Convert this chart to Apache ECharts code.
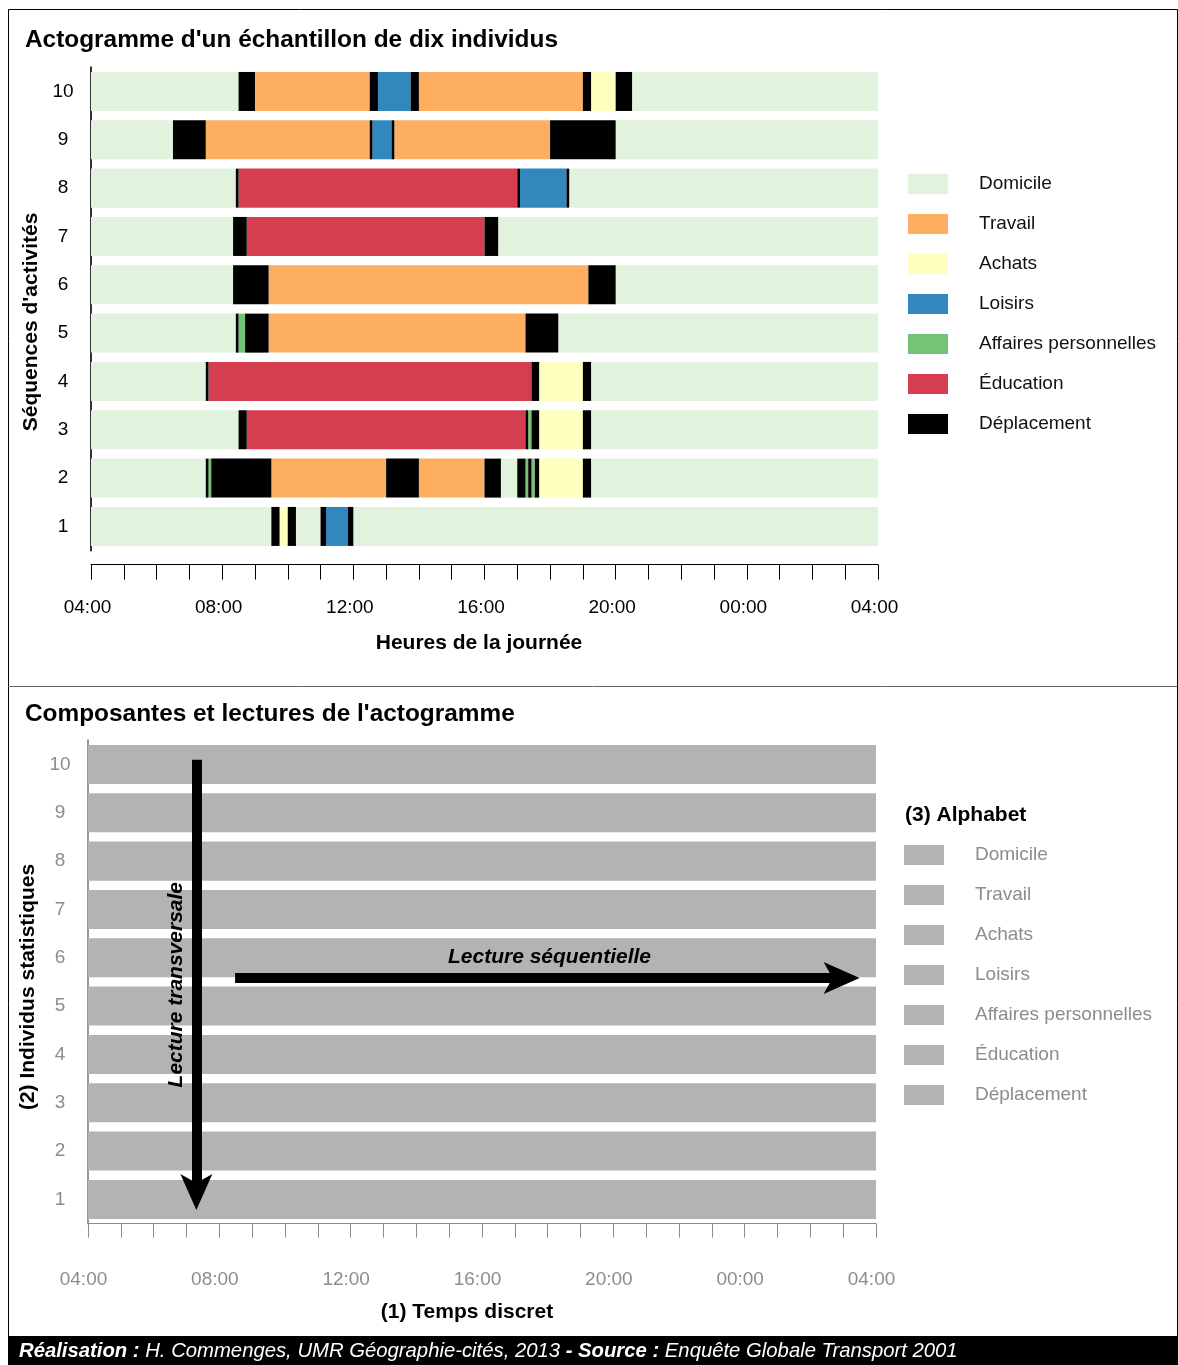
<!DOCTYPE html>
<html><head><meta charset="utf-8">
<script src="https://cdn.jsdelivr.net/npm/echarts@6/dist/echarts.min.js"></script>
<style>html,body{margin:0;padding:0;background:#fff}#c{width:1178px;height:1365px}</style>
</head><body><div id="c"></div><script>
// ---------- DATA ----------
const categories = ['1','2','3','4','5','6','7','8','9','10'];
const activities = ['Domicile','Travail','Achats','Loisirs','Affaires personnelles','Éducation','Déplacement'];
const activityCodes = ['D','T','A','L','P','E','X'];
const activityColors = ['#e1f3dc','#fdae61','#ffffbf','#3288bd','#74c476','#d53e4f','#000000'];
const tickLabels = ['04:00','08:00','12:00','16:00','20:00','00:00','04:00'];

const individu1 = [['D','04:00','09:30'],['X','09:30','09:45'],['A','09:45','10:00'],['X','10:00','10:15'],['D','10:15','11:00'],['X','11:00','11:10'],['L','11:10','11:50'],['X','11:50','12:00'],['D','12:00','04:00']];
const individu2 = [['D','04:00','07:30'],['X','07:30','07:35'],['P','07:35','07:40'],['X','07:40','09:30'],['T','09:30','13:00'],['X','13:00','14:00'],['T','14:00','16:00'],['X','16:00','16:30'],['D','16:30','17:00'],['X','17:00','17:15'],['P','17:15','17:20'],['X','17:20','17:26'],['P','17:26','17:32'],['X','17:32','17:40'],['A','17:40','19:00'],['X','19:00','19:15'],['D','19:15','04:00']];
const individu3 = [['D','04:00','08:30'],['X','08:30','08:45'],['E','08:45','17:15'],['X','17:15','17:20'],['P','17:20','17:26'],['X','17:26','17:40'],['A','17:40','19:00'],['X','19:00','19:15'],['D','19:15','04:00']];
const individu4 = [['D','04:00','07:30'],['X','07:30','07:35'],['E','07:35','17:26'],['X','17:26','17:40'],['A','17:40','19:00'],['X','19:00','19:15'],['D','19:15','04:00']];
const individu5 = [['D','04:00','08:25'],['X','08:25','08:30'],['P','08:30','08:42'],['X','08:42','09:25'],['T','09:25','17:15'],['X','17:15','18:15'],['D','18:15','04:00']];
const individu6 = [['D','04:00','08:20'],['X','08:20','09:25'],['T','09:25','19:10'],['X','19:10','20:00'],['D','20:00','04:00']];
const individu7 = [['D','04:00','08:20'],['X','08:20','08:45'],['E','08:45','16:00'],['X','16:00','16:25'],['D','16:25','04:00']];
const individu8 = [['D','04:00','08:25'],['X','08:25','08:30'],['E','08:30','17:00'],['X','17:00','17:05'],['L','17:05','18:30'],['X','18:30','18:35'],['D','18:35','04:00']];
const individu9 = [['D','04:00','06:30'],['X','06:30','07:30'],['T','07:30','12:30'],['X','12:30','12:35'],['L','12:35','13:10'],['X','13:10','13:15'],['T','13:15','18:00'],['X','18:00','20:00'],['D','20:00','04:00']];
const individu10 = [['D','04:00','08:30'],['X','08:30','09:00'],['T','09:00','12:30'],['X','12:30','12:45'],['L','12:45','13:45'],['X','13:45','14:00'],['T','14:00','19:00'],['X','19:00','19:15'],['A','19:15','20:00'],['X','20:00','20:30'],['D','20:30','04:00']];

// bottom schematic panel: every individual observed over the full 24h day
const fullDay = [24,24,24,24,24,24,24,24,24,24];
// annotation arrows, in data units (hours since 04:00, row units): shaft start, shaft end, head tip
const transversalArrow = [[3.3, 9.6], [3.2995, 0.70], [3.3, 0.28]];
const sequentialArrow = [[4.48, 5.08], [22.9, 5.08], [23.5, 5.08]];

// ---------- BUILD ----------
const FONT = "'Liberation Sans', Arial, sans-serif";
const individus = [individu1,individu2,individu3,individu4,individu5,individu6,individu7,individu8,individu9,individu10];
function toHours(s, isEnd){
  const p = s.split(':').map(Number);
  let t = p[0] + p[1]/60 - 4;
  if (t < 0 || (isEnd && t === 0)) t += 24;
  return t;
}
const seriesData = activityCodes.map(() => []);
individus.forEach((segs, r) => segs.forEach(([code, s, e]) => {
  seriesData[activityCodes.indexOf(code)].push([r, toHours(s,false), toHours(e,true)]);
}));
const BAR_RATIO = 0.807;
function renderSeg(params, api){
  const c0 = api.coord([api.value(1), api.value(0)]);
  const c1 = api.coord([api.value(2), api.value(0)]);
  const h = api.size([0,1])[1] * BAR_RATIO;
  return {type:'rect', shape:{x:c0[0], y:c0[1]-h/2, width:c1[0]-c0[0], height:h}, style:{fill: api.visual('color')}};
}
const hourFmt = v => (Number.isInteger(v) && v % 4 === 0) ? tickLabels[v/4] : '';
const arrowLabel = {show:true, position:'insideMiddleTop', distance:10,
  fontFamily:FONT, fontSize:21, fontWeight:'bold', fontStyle:'italic', color:'#000'};

const chart = echarts.init(document.getElementById('c'), null, {renderer:'canvas'});
const option = {
  animation: false,
  backgroundColor: '#fff',
  textStyle: {fontFamily: FONT},
  title: [
    {text:"Actogramme d'un échantillon de dix individus", left:25, top:28, padding:0,
     textStyle:{fontFamily:FONT, fontSize:24.4, fontWeight:'bold', color:'#000'}},
    {text:"Composantes et lectures de l'actogramme", left:25, top:702, padding:0,
     textStyle:{fontFamily:FONT, fontSize:24.4, fontWeight:'bold', color:'#000'}},
    {text:"(3) Alphabet", left:905, top:805, padding:0,
     textStyle:{fontFamily:FONT, fontSize:21, fontWeight:'bold', color:'#000'}},
    {text:'{b|Réalisation :}{n| H. Commenges, UMR Géographie-cités, 2013 }{b|- Source :}{n| Enquête Globale Transport 2001}',
     left:19, top:1341, padding:0, z:10,
     textStyle:{fontFamily:FONT, fontSize:20.3, fontWeight:'normal', color:'#fff',
       rich:{b:{fontFamily:FONT, fontSize:20.3, fontWeight:'bold', fontStyle:'italic', color:'#fff'},
             n:{fontFamily:FONT, fontSize:20.3, fontWeight:'normal', fontStyle:'italic', color:'#fff'}}}}
  ],
  graphic: [
    {type:'rect', z:0, shape:{x:8.5, y:9.5, width:1169, height:1327}, style:{fill:'none', stroke:'#000', lineWidth:1}},
    {type:'line', z:0, shape:{x1:8, y1:686.5, x2:1177, y2:686.5}, style:{stroke:'#666', lineWidth:1}},
    {type:'rect', z:0, shape:{x:8, y:1336, width:1170, height:29}, style:{fill:'#000'}}
  ],
  legend: [
    {orient:'vertical', left:908, top:174, itemWidth:40, itemHeight:20, itemGap:20, icon:'rect',
     selectedMode:false, padding:0, data: activities,
     textStyle:{fontFamily:FONT, fontSize:19, color:'#111', padding:[0,0,0,26]}},
    {orient:'vertical', left:904, top:845, itemWidth:40, itemHeight:20, itemGap:20, icon:'rect',
     selectedMode:false, padding:0,
     data: activities.map(n => ({name:n, itemStyle:{color:'#b3b3b3'}})),
     textStyle:{fontFamily:FONT, fontSize:19, color:'#8c8c8c', padding:[0,0,0,26]}}
  ],
  grid: [
    {left:91, right:300, top:67.3, height:483.3},
    {left:88, right:302, top:740.3, height:483.3}
  ],
  xAxis: [
    {gridIndex:0, type:'value', min:0, max:24, interval:1, offset:14,
     axisLine:{show:true, lineStyle:{color:'#000', width:1}},
     axisTick:{show:true, length:15, lineStyle:{color:'#000', width:1}},
     axisLabel:{margin:34, fontSize:19, color:'#000', formatter:hourFmt, padding:[0,7,0,0], showMinLabel:true, showMaxLabel:true},
     splitLine:{show:false},
     name:'Heures de la journée', nameLocation:'middle', nameGap:68,
     nameTextStyle:{fontFamily:FONT, fontSize:21, fontWeight:'bold', color:'#000', padding:[0,11,0,0]}},
    {gridIndex:1, type:'value', min:0, max:24, interval:1, offset:14,
     axisLine:{show:true, lineStyle:{color:'#8c8c8c', width:1}},
     axisTick:{show:true, length:14, lineStyle:{color:'#8c8c8c', width:1}},
     axisLabel:{margin:33, fontSize:19, color:'#8c8c8c', formatter:hourFmt, padding:[0,9,0,0], showMinLabel:true, showMaxLabel:true},
     splitLine:{show:false},
     name:'(1) Temps discret', nameLocation:'middle', nameGap:64,
     nameTextStyle:{fontFamily:FONT, fontSize:21, fontWeight:'bold', color:'#000', padding:[0,30,0,0]}},
  ],
  yAxis: [
    {gridIndex:0, type:'category', data:categories, offset:7,
     axisLine:{show:true, lineStyle:{color:'#333', width:2}},
     axisTick:{show:false},
     axisLabel:{fontSize:19, color:'#000', margin:21, align:'center'},
     name:"Séquences d'activités", nameLocation:'middle', nameGap:37,
     nameTextStyle:{fontFamily:FONT, fontSize:21, fontWeight:'bold', color:'#000', padding:[0,26,0,0]}},
    {gridIndex:1, type:'category', data:categories, offset:8,
     axisLine:{show:true, lineStyle:{color:'#999', width:2}},
     axisTick:{show:false},
     axisLabel:{fontSize:19, color:'#8c8c8c', margin:20, align:'center'},
     name:'(2) Individus statistiques', nameLocation:'middle', nameGap:33,
     nameTextStyle:{fontFamily:FONT, fontSize:21, fontWeight:'bold', color:'#000', padding:[0,10,0,0]}},
    {gridIndex:1, type:'value', min:0, max:10, show:false}
  ],
  series: activities.map((name, i) => ({
    name: name, type:'custom', xAxisIndex:0, yAxisIndex:0,
    itemStyle:{color: activityColors[i]},
    renderItem: renderSeg, encode:{x:[1,2], y:0},
    data: seriesData[i], silent:true
  })).concat([
    {type:'bar', name:'schema', xAxisIndex:1, yAxisIndex:1, data: fullDay, barWidth:(BAR_RATIO*100)+'%',
     itemStyle:{color:'#b3b3b3'}, silent:true},
    {type:'line', name:'lectures', xAxisIndex:1, yAxisIndex:2, data:[], symbol:'none', silent:true,
     markLine:{silent:true, animation:false, symbol:['none','none'],
       lineStyle:{color:'#000', width:10, type:'solid', cap:'butt'},
       data:[
         [{coord:transversalArrow[0], label:Object.assign({formatter:'Lecture transversale', padding:[0,20,0,0]}, arrowLabel)},
          {coord:transversalArrow[1]}],
         [{coord:sequentialArrow[0], label:Object.assign({formatter:'Lecture séquentielle', padding:[0,0,0,24]}, arrowLabel)},
          {coord:sequentialArrow[1]}]
       ]},
     markPoint:{silent:true, animation:false, symbol:'arrow', symbolSize:[24,36],
       itemStyle:{color:'#000'}, label:{show:false},
       data:[
         {coord:transversalArrow[2], symbolRotate:180},
         {coord:sequentialArrow[2], symbolRotate:-90}
       ]}}
  ])
};
chart.setOption(option);
</script></body></html>
